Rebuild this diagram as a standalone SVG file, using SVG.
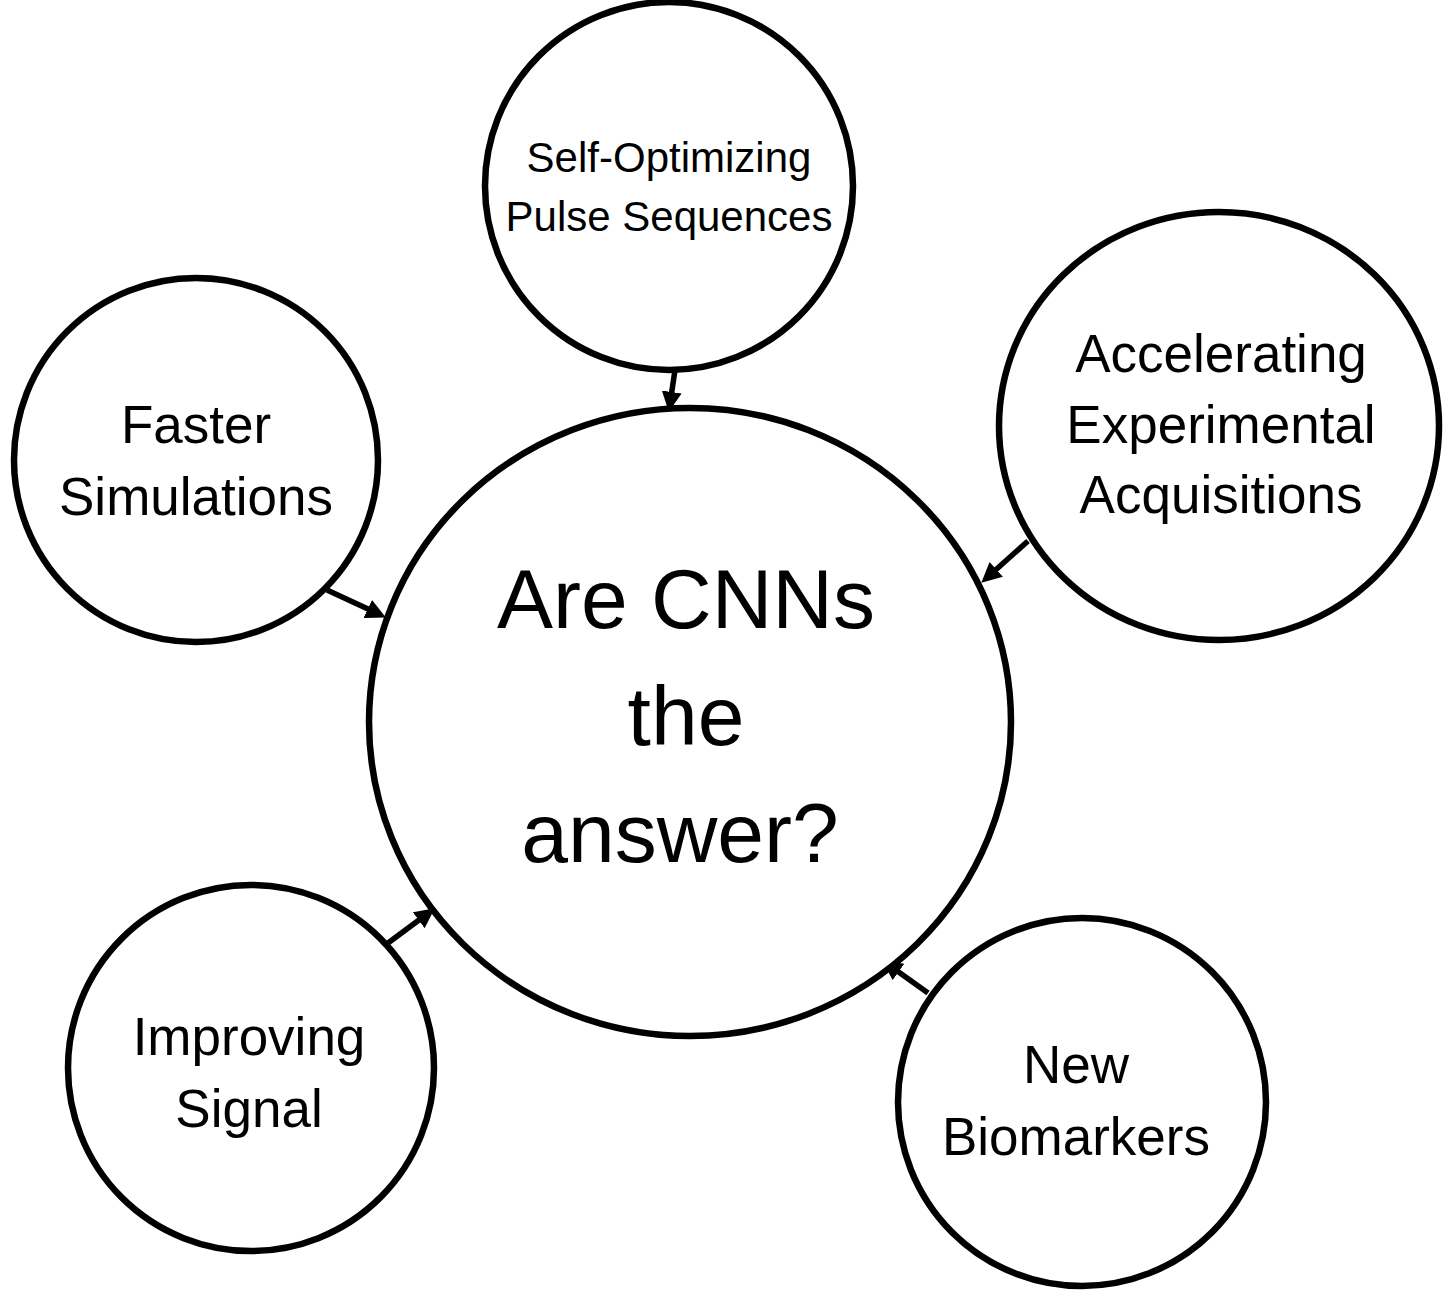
<svg xmlns="http://www.w3.org/2000/svg" width="1450" height="1290" viewBox="0 0 1450 1290">
<style>
.node{fill:#fff;stroke:#000;stroke-width:6.5}
.lbl{font-family:"Liberation Sans","Open Sans",sans-serif;fill:#000;text-anchor:middle}
.conn{stroke:#000;stroke-width:5.5;fill:none}
</style>
<defs>
<marker id="ah" markerUnits="userSpaceOnUse" markerWidth="22" markerHeight="22" refX="5" refY="10" orient="auto">
<path d="M0,0 L20,10 L0,20 z" fill="#000"/>
</marker>
</defs>
<rect width="1450" height="1290" fill="#fff"/>
<g id="connectors">
<line class="conn" x1="675" y1="370" x2="671" y2="397" marker-end="url(#ah)"/>
<line class="conn" x1="327" y1="590" x2="372.3" y2="611.1" marker-end="url(#ah)"/>
<line class="conn" x1="1028" y1="541" x2="992.5" y2="572.7" marker-end="url(#ah)"/>
<line class="conn" x1="388" y1="943" x2="422.7" y2="917.3" marker-end="url(#ah)"/>
<line class="conn" x1="928" y1="993" x2="894.4" y2="969.1" marker-end="url(#ah)"/>
</g>
<g id="center">
<ellipse class="node" cx="690" cy="722" rx="321" ry="314"/>
<text class="lbl" font-size="84" x="686" y="628">Are CNNs</text>
<text class="lbl" font-size="84" x="686" y="745">the</text>
<text class="lbl" font-size="84" x="680" y="862">answer?</text>
</g>
<g id="pulse">
<circle class="node" cx="669" cy="186" r="184"/>
<text class="lbl" font-size="42" x="669" y="172">Self-Optimizing</text>
<text class="lbl" font-size="42" x="669" y="231">Pulse Sequences</text>
</g>
<g id="faster">
<circle class="node" cx="196" cy="460" r="182"/>
<text class="lbl" font-size="53" x="196" y="443">Faster</text>
<text class="lbl" font-size="53" x="196" y="515">Simulations</text>
</g>
<g id="accel">
<ellipse class="node" cx="1219" cy="426" rx="220" ry="214"/>
<text class="lbl" font-size="53" x="1221" y="372">Accelerating</text>
<text class="lbl" font-size="53" x="1221" y="443">Experimental</text>
<text class="lbl" font-size="53" x="1221" y="513">Acquisitions</text>
</g>
<g id="improving">
<circle class="node" cx="251" cy="1068" r="183"/>
<text class="lbl" font-size="53" x="249" y="1055">Improving</text>
<text class="lbl" font-size="53" x="249" y="1127">Signal</text>
</g>
<g id="biomarkers">
<circle class="node" cx="1082" cy="1102" r="184"/>
<text class="lbl" font-size="53" x="1076" y="1083">New</text>
<text class="lbl" font-size="53" x="1076" y="1155">Biomarkers</text>
</g>
</svg>
